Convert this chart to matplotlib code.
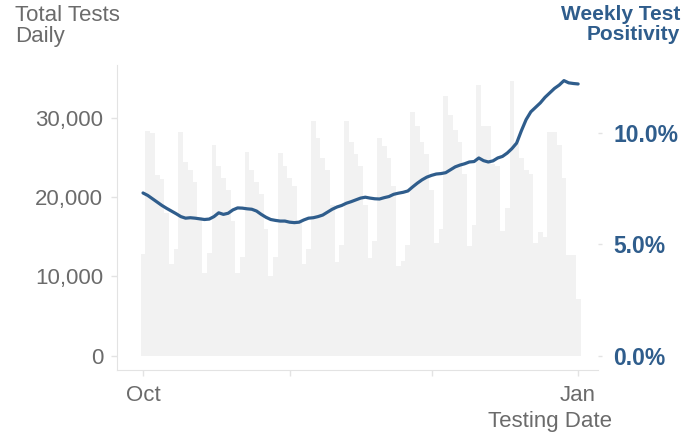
import numpy as np
import pandas as pd
import matplotlib.pyplot as plt
import matplotlib.dates as mdates
from matplotlib.ticker import FuncFormatter, FixedLocator

plt.rcParams['font.family'] = ['Liberation Sans', 'DejaVu Sans']

# Daily test counts, Oct 1 -> Jan 1
dates = pd.date_range('2020-10-01', '2021-01-01', freq='D')
total_tests = [
    12900,
    28400, 28100, 22800, 22400, 18000, 11600, 13500,
    28300, 24500, 23500, 22000, 17500, 10400, 13000,
    26600, 24000, 22500, 21000, 17000, 10400, 12500,
    25700, 23500, 22000, 20500, 16000, 10000, 12500,
    25600, 24000, 22500, 21500, 17000, 11600, 13500,
    29700, 27500, 25000, 23500, 19000, 11800, 14000,
    29700, 27000, 25500, 24000, 19000, 12400, 14500,
    27500, 26500, 25000, 21500, 11300, 12000, 14000,
    30800, 29000, 27000, 25500, 21000, 14200, 16000,
    32900, 30500, 28500, 27000, 23000, 13800, 16500,
    34200, 29000, 29000, 24300, 24000, 15700, 18700,
    34800, 26800, 25000, 23500, 23000, 14200, 15600,
    15000, 28300, 28300, 26600, 22500, 12700, 12700, 7200,
]

# Weekly test positivity (%), same days
positivity = [
    7.31, 7.20, 7.05, 6.90, 6.75, 6.62, 6.50, 6.38, 6.25, 6.18,
    6.20, 6.18, 6.15, 6.12, 6.14, 6.25, 6.42, 6.35, 6.40, 6.55,
    6.64, 6.63, 6.60, 6.58, 6.50, 6.35, 6.22, 6.12, 6.08, 6.05,
    6.05, 6.00, 5.98, 6.00, 6.10, 6.18, 6.20, 6.25, 6.32, 6.45,
    6.58, 6.68, 6.75, 6.85, 6.92, 7.00, 7.08, 7.12, 7.08, 7.05,
    7.04, 7.10, 7.15, 7.25, 7.30, 7.34, 7.40, 7.58, 7.75, 7.90,
    8.02, 8.10, 8.16, 8.18, 8.22, 8.35, 8.48, 8.56, 8.62, 8.70,
    8.72, 8.88, 8.76, 8.70, 8.75, 8.88, 8.95, 9.10, 9.30, 9.55,
    10.10, 10.60, 10.95, 11.15, 11.35, 11.60, 11.80, 12.00, 12.15, 12.35,
    12.25, 12.22, 12.20,
]

left_ticks = [0, 10000, 20000, 30000]
right_ticks = [0, 5, 10]

grey_txt = '#6b6b6b'
blue = '#2f5d8c'
axis_grey = '#e3e3e3'

fig = plt.figure(figsize=(6.85, 4.36), dpi=100)
ax = fig.add_axes([117/685, 66/436, 481/685, 305/436])
ax2 = ax.twinx()

ax.bar(dates, total_tests, width=1.02, color='#f2f2f2', linewidth=0, zorder=1)
ax2.plot(dates, positivity, color=blue, linewidth=2.3, solid_capstyle='round')

start = dates[0]
ax.set_xlim(start - pd.Timedelta(days=5.5), start + pd.Timedelta(days=96.2))
ax.set_ylim(-1835, 36770)
ax2.set_ylim(-0.63, 13.05)

# x axis: ticks at month starts, labels only Oct and Jan
month_ticks = pd.to_datetime(['2020-10-01', '2020-11-01', '2020-12-01', '2021-01-01'])
ax.xaxis.set_major_locator(FixedLocator(mdates.date2num(month_ticks)))
ax.set_xticklabels(['Oct', '', '', 'Jan'])
ax.tick_params(axis='x', colors=axis_grey, length=4, width=1, labelcolor=grey_txt,
               labelsize=16, pad=7)

ax.yaxis.set_major_locator(FixedLocator(left_ticks))
ax.yaxis.set_major_formatter(FuncFormatter(lambda v, p: f'{int(v):,}'))
ax.tick_params(axis='y', colors=axis_grey, length=4, width=1, labelcolor=grey_txt,
               labelsize=16, pad=6)

ax2.yaxis.set_major_locator(FixedLocator(right_ticks))
ax2.yaxis.set_major_formatter(FuncFormatter(lambda v, p: f'{v:.1f}%'))
ax2.tick_params(axis='y', colors=axis_grey, length=3, width=1, labelcolor=blue,
                labelsize=16.5, pad=8)
for lab in ax2.get_yticklabels():
    lab.set_fontweight('bold')

for a in (ax, ax2):
    for s in a.spines.values():
        s.set_visible(False)
ax.spines['left'].set_visible(True)
ax.spines['left'].set_color(axis_grey)
ax.spines['bottom'].set_visible(True)
ax.spines['bottom'].set_color(axis_grey)

fig.text(15/685, 1 - 5/436, 'Total Tests\nDaily', ha='left', va='top',
         fontsize=16, color=grey_txt, linespacing=1.0)
fig.text(680/685, 1 - 5/436, 'Weekly Test\nPositivity', ha='right', va='top',
         fontsize=15, color=blue, fontweight='bold', linespacing=1.05)
fig.text(612/685, 4/436, 'Testing Date', ha='right', va='bottom',
         fontsize=16, color=grey_txt)

fig.savefig('out.png', dpi=100)
